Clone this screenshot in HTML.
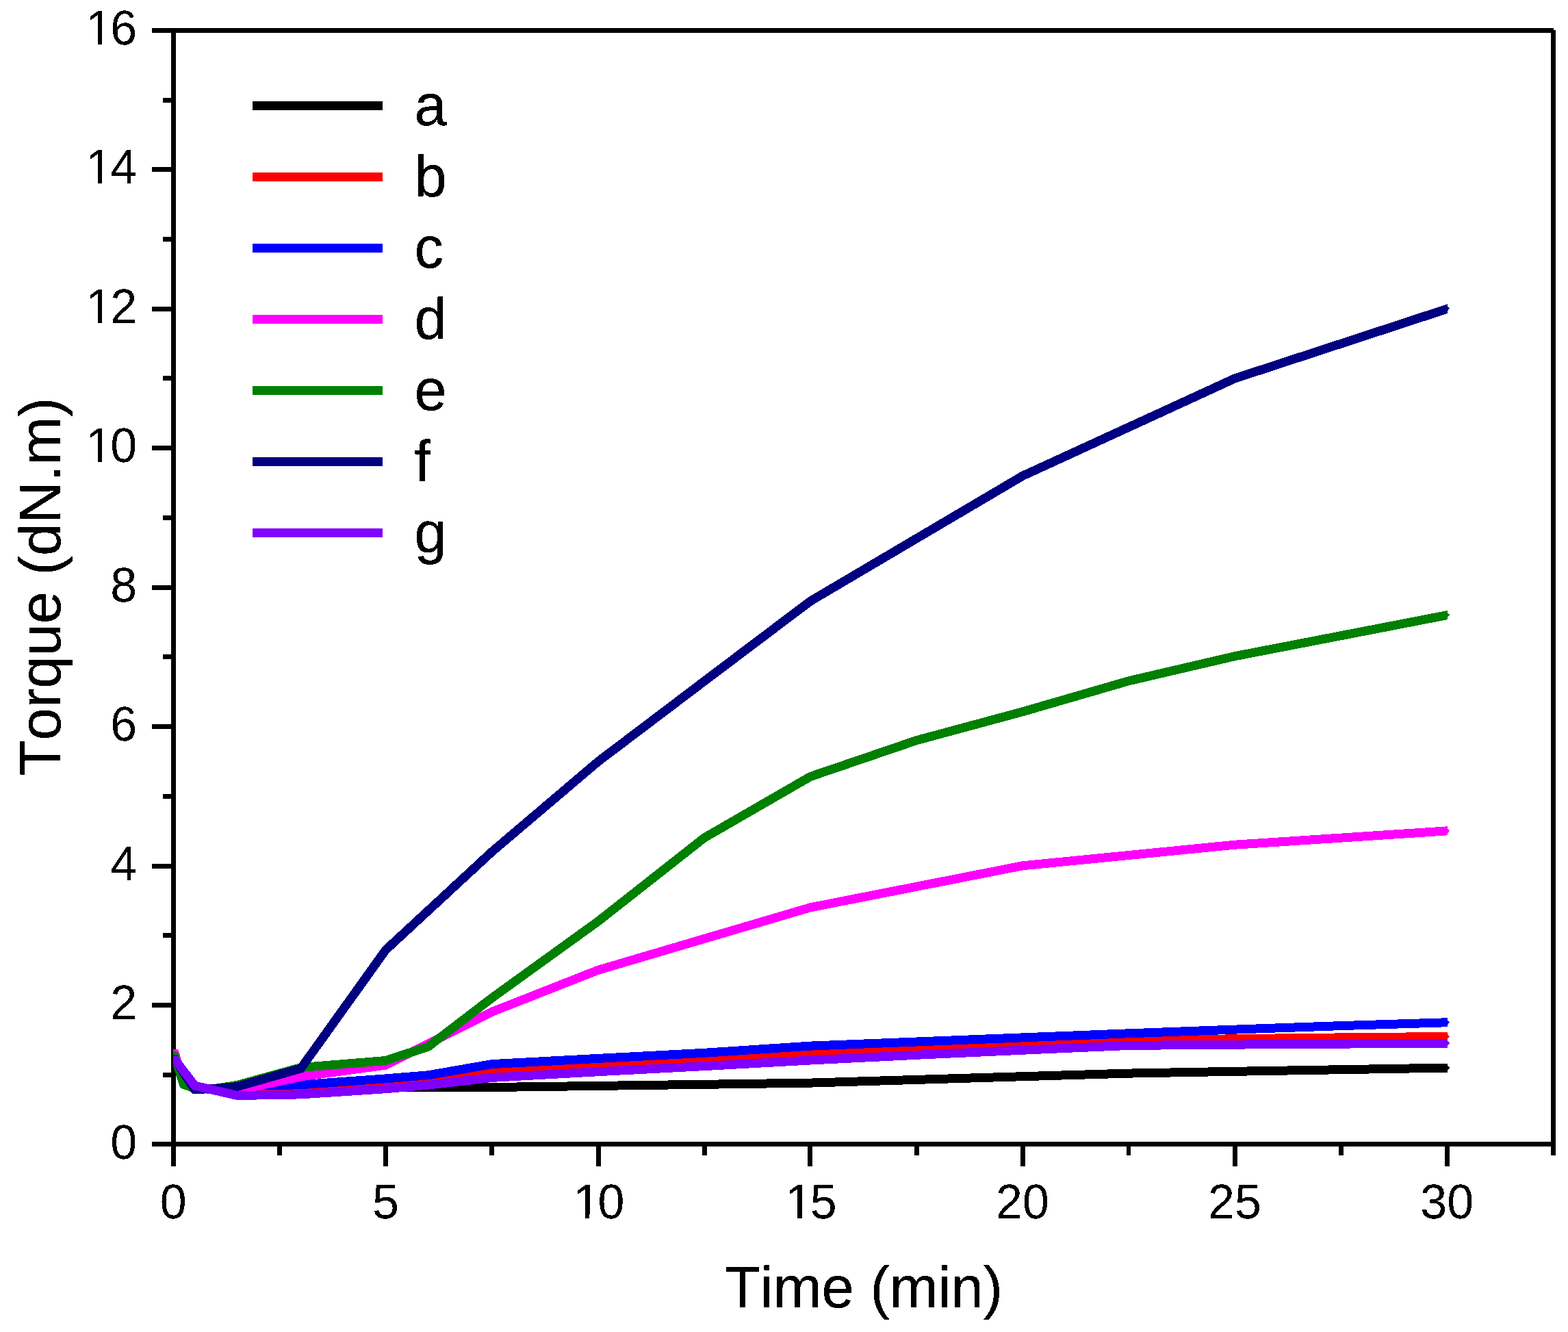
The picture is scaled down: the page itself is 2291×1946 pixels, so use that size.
<!DOCTYPE html>
<html lang="en"><head><meta charset="utf-8"><title>Torque vs Time</title>
<style>
html,body{margin:0;padding:0;background:#fff;}
body{width:2291px;height:1946px;overflow:hidden;}
svg{display:block;}
text{font-family:"Liberation Sans",sans-serif;fill:#000;font-kerning:none;font-variant-ligatures:none;font-feature-settings:"kern" 0,"liga" 0;text-rendering:geometricPrecision;}
.tick{font-size:70px;}
.big{font-size:85px;stroke:#000;stroke-width:0.3px;stroke-linejoin:round;}
</style></head><body>
<svg width="2291" height="1946" viewBox="0 0 2291 1946">
<defs><filter id="bw" x="-5%" y="-20%" width="110%" height="140%" color-interpolation-filters="sRGB"><feComponentTransfer><feFuncA type="discrete" tableValues="0 1"/></feComponentTransfer></filter><clipPath id="c1" clipPathUnits="userSpaceOnUse"><rect x="-10.00" y="-80" width="140" height="74.17"/><rect x="20.60" y="-10" width="6.19" height="14"/><rect x="38.53" y="-10" width="100" height="30"/></clipPath><clipPath id="plot"><rect x="253" y="48" width="1862" height="1620"/></clipPath></defs>
<rect x="0" y="0" width="2291" height="1946" fill="#fff"/>
<g fill="#000" shape-rendering="crispEdges">
<rect x="222" y="41" width="2048" height="7"/>
<rect x="222" y="1668" width="2051" height="7"/>
<rect x="250" y="41" width="7" height="1663"/>
<rect x="2266" y="44" width="7" height="1644"/>
<rect x="222" y="1668" width="28" height="7"/>
<rect x="238" y="1567" width="12" height="7"/>
<rect x="222" y="1465" width="28" height="7"/>
<rect x="238" y="1363" width="12" height="7"/>
<rect x="222" y="1262" width="28" height="7"/>
<rect x="238" y="1160" width="12" height="7"/>
<rect x="222" y="1058" width="28" height="7"/>
<rect x="238" y="956" width="12" height="7"/>
<rect x="222" y="855" width="28" height="7"/>
<rect x="238" y="753" width="12" height="7"/>
<rect x="222" y="651" width="28" height="7"/>
<rect x="238" y="549" width="12" height="7"/>
<rect x="222" y="448" width="28" height="7"/>
<rect x="238" y="346" width="12" height="7"/>
<rect x="222" y="244" width="28" height="7"/>
<rect x="238" y="143" width="12" height="7"/>
<rect x="222" y="41" width="28" height="7"/>
<rect x="250" y="1675" width="7" height="29"/>
<rect x="405" y="1675" width="7" height="13"/>
<rect x="560" y="1675" width="7" height="29"/>
<rect x="715" y="1675" width="7" height="13"/>
<rect x="871" y="1675" width="7" height="29"/>
<rect x="1026" y="1675" width="7" height="13"/>
<rect x="1180" y="1675" width="7" height="29"/>
<rect x="1336" y="1675" width="7" height="13"/>
<rect x="1491" y="1675" width="7" height="29"/>
<rect x="1646" y="1675" width="6" height="13"/>
<rect x="1801" y="1675" width="7" height="29"/>
<rect x="1956" y="1675" width="7" height="13"/>
<rect x="2111" y="1675" width="7" height="29"/>
<rect x="2266" y="1675" width="7" height="13"/>
</g>
<g clip-path="url(#plot)" fill="none" stroke-width="13" stroke-linejoin="miter" stroke-miterlimit="3" stroke-linecap="butt" shape-rendering="crispEdges">
<path d="M245.5 1544.4 L253.5 1544.4 L255.4 1544.4 L269.0 1583.0 L284.5 1590.2 L315.5 1591.7 L346.5 1592.2 L439.6 1591.2 L563.6 1588.5 L718.7 1588.5 L873.8 1586.4 L1028.9 1584.3 L1184.0 1582.1 L1339.0 1577.4 L1494.1 1572.7 L1649.2 1568.1 L1804.2 1565.3 L1959.3 1562.7 L2118.4 1560.0" stroke="#000000"/>
<path d="M245.5 1544.4 L253.5 1544.4 L255.4 1544.4 L269.0 1583.0 L284.5 1590.2 L315.5 1591.7 L346.5 1593.2 L439.6 1590.2 L563.6 1583.0 L625.7 1577.9 L718.7 1564.7 L873.8 1555.6 L1028.9 1547.4 L1184.0 1539.3 L1339.0 1533.2 L1494.1 1527.1 L1649.2 1521.2 L1804.2 1517.7 L1959.3 1515.9 L2118.4 1514.4" stroke="#ff0000"/>
<path d="M245.5 1542.4 L253.5 1542.4 L255.1 1542.4 L268.1 1583.5 L284.5 1590.2 L315.5 1591.2 L346.5 1586.6 L439.6 1584.8 L563.6 1575.9 L625.7 1570.8 L718.7 1554.6 L873.8 1546.4 L1028.9 1538.3 L1184.0 1528.1 L1339.0 1522.0 L1494.1 1515.9 L1649.2 1509.8 L1804.2 1504.1 L1959.3 1498.6 L2118.4 1493.6" stroke="#0000ff"/>
<path d="M245.5 1539.3 L253.5 1539.3 L255.4 1539.3 L269.0 1583.5 L284.5 1589.1 L315.5 1591.2 L346.5 1593.2 L439.6 1572.9 L563.6 1556.1 L625.7 1525.1 L718.7 1478.3 L873.8 1417.3 L1028.9 1371.5 L1184.0 1325.8 L1339.0 1295.3 L1494.1 1264.8 L1649.2 1249.5 L1804.2 1234.2 L1959.3 1224.1 L2118.4 1213.6" stroke="#ff00ff"/>
<path d="M245.5 1543.9 L253.5 1543.9 L255.4 1543.9 L269.0 1584.6 L284.5 1590.2 L315.5 1590.2 L346.5 1585.4 L439.6 1559.6 L563.6 1549.5 L625.7 1529.1 L718.7 1458.0 L873.8 1346.1 L1028.9 1224.1 L1184.0 1134.6 L1339.0 1081.7 L1494.1 1039.8 L1649.2 994.8 L1804.2 958.7 L1959.3 928.7 L2118.4 897.9" stroke="#008000"/>
<path d="M245.5 1548.5 L253.5 1548.5 L256.0 1548.5 L284.5 1591.7 L315.5 1590.2 L346.5 1587.6 L439.6 1560.9 L563.6 1387.8 L718.7 1244.4 L873.8 1112.7 L1028.9 995.3 L1184.0 878.3 L1339.0 786.8 L1494.1 695.3 L1649.2 624.1 L1804.2 552.9 L1959.3 502.1 L2118.4 449.9" stroke="#000080"/>
<path d="M245.5 1549.0 L253.5 1549.0 L256.3 1549.0 L284.5 1586.1 L346.5 1600.5 L439.6 1598.9 L563.6 1590.7 L625.7 1585.1 L718.7 1574.4 L873.8 1565.7 L1028.9 1557.6 L1184.0 1549.0 L1339.0 1541.3 L1494.1 1534.2 L1649.2 1527.4 L1804.2 1526.1 L1959.3 1525.1 L2118.4 1524.0" stroke="#8000ff"/>
</g>
<g shape-rendering="crispEdges"><polygon points="2115.0,1556.5 2118.2,1560.0 2115.0,1563.5" fill="#000000"/><polygon points="2115.0,1510.9 2118.2,1514.4 2115.0,1517.9" fill="#ff0000"/><polygon points="2115.0,1490.2 2118.2,1493.6 2115.0,1497.2" fill="#0000ff"/><polygon points="2115.0,1210.4 2118.2,1213.7 2115.0,1217.4" fill="#ff00ff"/><polygon points="2115.0,895.1 2118.1,898.0 2115.0,902.1" fill="#008000"/><polygon points="2115.0,447.6 2118.0,450.1 2115.0,454.6" fill="#000080"/><polygon points="2115.0,1520.5 2118.2,1524.0 2115.0,1527.5" fill="#8000ff"/></g>
<g shape-rendering="crispEdges">
<rect x="369" y="148" width="190" height="13" fill="#000000"/>
<rect x="369" y="252" width="190" height="13" fill="#ff0000"/>
<rect x="369" y="356" width="190" height="13" fill="#0000ff"/>
<rect x="369" y="460" width="190" height="13" fill="#ff00ff"/>
<rect x="369" y="564" width="190" height="13" fill="#008000"/>
<rect x="369" y="668" width="190" height="13" fill="#000080"/>
<rect x="369" y="772" width="190" height="13" fill="#8000ff"/>
</g>
<g filter="url(#bw)">
<text class="big" x="605.5" y="183">a</text>
<text class="big" x="605.5" y="287">b</text>
<text class="big" x="605.5" y="391">c</text>
<text class="big" x="605.5" y="495">d</text>
<text class="big" x="605.5" y="599">e</text>
<text class="big" x="605.5" y="703">f</text>
<text class="big" x="605.5" y="807">g</text>
<text class="tick" transform="translate(161.27 1692.50) scale(1 1.02)">0</text>
<text class="tick" transform="translate(161.27 1489.10) scale(1 1.02)">2</text>
<text class="tick" transform="translate(161.27 1285.75) scale(1 1.02)">4</text>
<text class="tick" transform="translate(161.27 1082.40) scale(1 1.02)">6</text>
<text class="tick" transform="translate(161.27 879.00) scale(1 1.02)">8</text>
<text class="tick" transform="translate(122.34 674.60) scale(1 1.02)" dx="3.0 -3.0" clip-path="url(#c1)">10</text>
<text class="tick" transform="translate(122.34 472.25) scale(1 1.02)" dx="3.0 -3.0" clip-path="url(#c1)">12</text>
<text class="tick" transform="translate(122.34 267.90) scale(1 1.02)" dx="3.0 -3.0" clip-path="url(#c1)">14</text>
<text class="tick" transform="translate(122.34 64.50) scale(1 1.02)" dx="3.0 -3.0" clip-path="url(#c1)">16</text>
<text class="tick" transform="translate(233.83 1780.50) scale(1 1.02)">0</text>
<text class="tick" transform="translate(543.98 1780.50) scale(1 1.02)">5</text>
<text class="tick" transform="translate(834.67 1780.50) scale(1 1.02)" dx="3.0 -3.0" clip-path="url(#c1)">10</text>
<text class="tick" transform="translate(1144.82 1780.50) scale(1 1.02)" dx="3.0 -3.0" clip-path="url(#c1)">15</text>
<text class="tick" transform="translate(1454.97 1780.50) scale(1 1.02)">20</text>
<text class="tick" transform="translate(1765.12 1780.50) scale(1 1.02)">25</text>
<text class="tick" transform="translate(2075.27 1780.50) scale(1 1.02)">30</text>
<text class="big" x="1262" y="1910" text-anchor="middle">Time (min)</text>
<text class="big" transform="translate(88 857) rotate(-90)" text-anchor="middle">Torque (dN.m)</text>
</g>
</svg></body></html>
